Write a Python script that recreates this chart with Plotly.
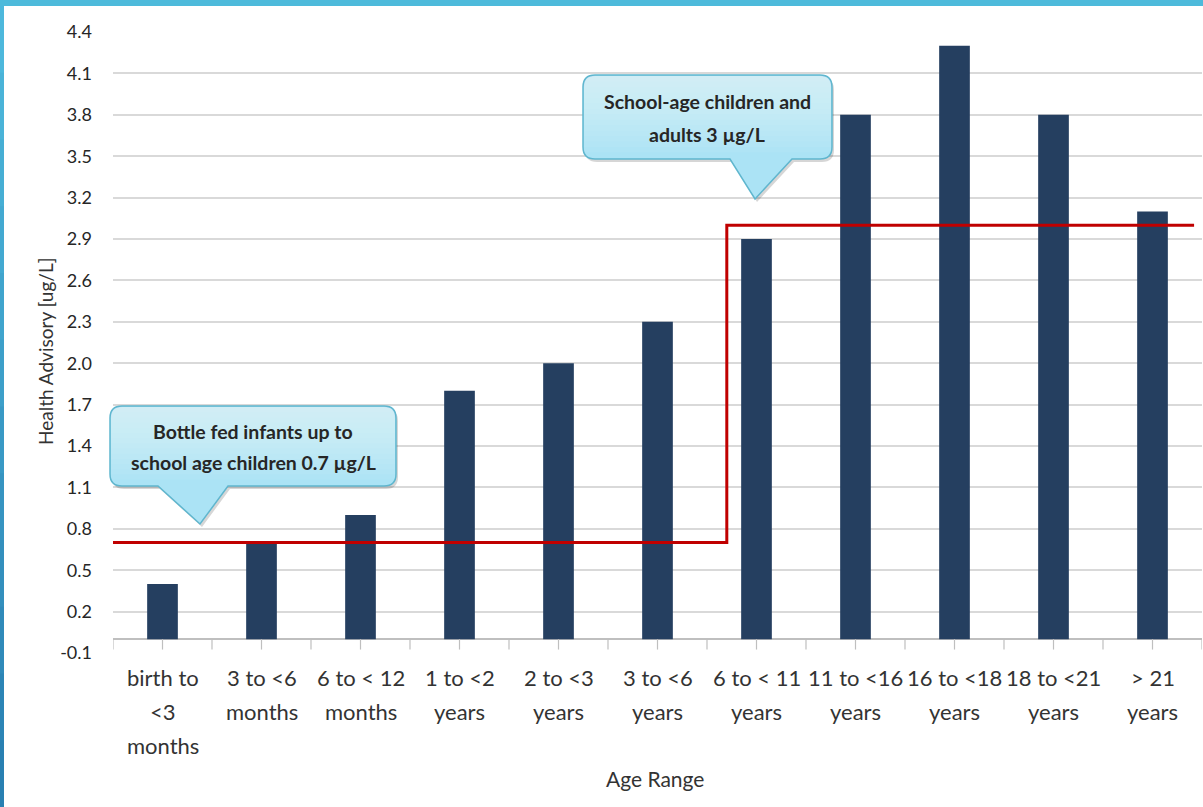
import plotly.graph_objects as go

# ---- data -------------------------------------------------------------
age_ranges = [
    "birth to\n<3\nmonths", "3 to <6\nmonths", "6 to < 12\nmonths",
    "1 to <2\nyears", "2 to <3\nyears", "3 to <6\nyears",
    "6 to < 11\nyears", "11 to <16\nyears", "16 to <18\nyears",
    "18 to <21\nyears", "> 21\nyears",
]
advisory = [0.4, 0.7, 0.9, 1.8, 2.0, 2.3, 2.9, 3.8, 4.3, 3.8, 3.1]

# stepped advisory limit (x in category units)
limit_x = [-0.5, 5.7, 5.7, 10.42]
limit_y = [0.7, 0.7, 3.0, 3.0]

y_ticks = [round(-0.1 + 0.3 * k, 1) for k in range(16)]

callout_texts = [
    ["Bottle fed infants up to", "school age children 0.7 \u00b5g/L"],
    ["School-age children and", "adults 3 \u00b5g/L"],
]

# ---- layout geometry (pixels) ----------------------------------------
W, H = 1203, 807
L, R, T, B = 113, 1202, 32, 653
PW, PH = R - L, B - T


def px(x):
    return (x - L) / PW


def py(y):
    return (B - y) / PH


FONT = "Lato, 'Liberation Sans', sans-serif"

fig = go.Figure()

fig.add_trace(go.Bar(
    x=list(range(len(advisory))), y=advisory, width=0.31,
    marker=dict(color="#253F60", line=dict(width=0)),
    hoverinfo="y",
))

fig.add_trace(go.Scatter(
    x=limit_x, y=limit_y, mode="lines",
    line=dict(color="#C00000", width=3), hoverinfo="skip",
))

shapes = []

# category axis ticks at centres and boundaries
for k in range(2 * len(advisory) + 1):
    xv = -0.5 + 0.5 * k
    shapes.append(dict(type="line", xref="x", yref="y", x0=xv, x1=xv,
                       y0=0, y1=-0.075, line=dict(color="#BFBFBF", width=1.2),
                       layer="above"))

# window frame strips
shapes.append(dict(type="rect", xref="paper", yref="paper",
                   x0=px(0), x1=px(W), y0=py(0), y1=py(6),
                   fillcolor="#4DBADB", line=dict(width=0), layer="above"))
n_seg = 12
c0, c1 = (77, 184, 220), (41, 128, 178)
for s in range(n_seg):
    f = s / (n_seg - 1)
    col = "rgb(%d,%d,%d)" % tuple(round(a + (b - a) * f) for a, b in zip(c0, c1))
    y0p = 6 + (H - 6) * s / n_seg
    y1p = 6 + (H - 6) * (s + 1) / n_seg
    shapes.append(dict(type="rect", xref="paper", yref="paper",
                       x0=px(0), x1=px(4), y0=py(y0p), y1=py(y1p + 1),
                       fillcolor=col, line=dict(width=0), layer="above"))


def callout_path(x0, y0, x1, y1, bx0, bx1, tx, ty, r=12, dx=0, dy=0):
    x0 += dx; x1 += dx; bx0 += dx; bx1 += dx; tx += dx
    y0 += dy; y1 += dy; ty += dy
    return (f"M {px(x0 + r)},{py(y0)} L {px(x1 - r)},{py(y0)} "
            f"Q {px(x1)},{py(y0)} {px(x1)},{py(y0 + r)} "
            f"L {px(x1)},{py(y1 - r)} Q {px(x1)},{py(y1)} {px(x1 - r)},{py(y1)} "
            f"L {px(bx1)},{py(y1)} L {px(tx)},{py(ty)} L {px(bx0)},{py(y1)} "
            f"L {px(x0 + r)},{py(y1)} Q {px(x0)},{py(y1)} {px(x0)},{py(y1 - r)} "
            f"L {px(x0)},{py(y0 + r)} Q {px(x0)},{py(y0)} {px(x0 + r)},{py(y0)} Z")


def rrect_path(x0, y0, x1, y1, r):
    return (f"M {px(x0 + r)},{py(y0)} L {px(x1 - r)},{py(y0)} "
            f"Q {px(x1)},{py(y0)} {px(x1)},{py(y0 + r)} "
            f"L {px(x1)},{py(y1)} L {px(x0)},{py(y1)} "
            f"L {px(x0)},{py(y0 + r)} Q {px(x0)},{py(y0)} {px(x0 + r)},{py(y0)} Z")


callouts = [
    dict(box=(110, 406, 396, 486), base=(158, 228), tip=(200, 524)),
    dict(box=(583, 75, 832, 159), base=(730, 792), tip=(755, 199)),
]
for c in callouts:
    x0, y0, x1, y1 = c["box"]
    bx0, bx1 = c["base"]
    tx, ty = c["tip"]
    # soft shadow
    shapes.append(dict(type="path", xref="paper", yref="paper",
                       path=callout_path(x0, y0, x1, y1, bx0, bx1, tx, ty, dx=2, dy=3),
                       fillcolor="rgba(0,0,0,0.16)", line=dict(width=0), layer="above"))
    shapes.append(dict(type="path", xref="paper", yref="paper",
                       path=callout_path(x0, y0, x1, y1, bx0, bx1, tx, ty),
                       fillcolor="#ABE3F5", line=dict(width=0), layer="above"))
    # vertical light-to-dark gradient built from stacked translucent layers
    n_band = 14
    for k in range(n_band):
        yb = y0 + 1 + (y1 - y0 - 2) * (k + 1) / (n_band + 1)
        shapes.append(dict(type="path", xref="paper", yref="paper",
                           path=rrect_path(x0 + 1, y0 + 1, x1 - 1, yb, 11),
                           fillcolor="rgba(255,255,255,0.05)", line=dict(width=0),
                           layer="above"))
    shapes.append(dict(type="path", xref="paper", yref="paper",
                       path=callout_path(x0, y0, x1, y1, bx0, bx1, tx, ty),
                       fillcolor="rgba(0,0,0,0)", line=dict(color="#5FB6CE", width=1.5),
                       layer="above"))

annotations = []

# callout text
callout_text_pos = [(253, [431, 462]), (707, [102, 135])]
for lines, (cx, ys) in zip(callout_texts, callout_text_pos):
    for line, yy in zip(lines, ys):
        annotations.append(dict(
            text="<b>%s</b>" % line, xref="paper", yref="paper",
            x=px(cx), y=py(yy), xanchor="center", yanchor="middle",
            showarrow=False, font=dict(family=FONT, size=19.5, color="#262626")))

# category labels, one annotation per line
line_y = [677, 711, 745]
for i, lab in enumerate(age_ranges):
    for j, part in enumerate(lab.split("\n")):
        annotations.append(dict(
            text=part, xref="x", yref="paper", x=i, y=py(line_y[j]),
            xanchor="center", yanchor="middle", showarrow=False,
            font=dict(family=FONT, size=22, color="#333333")))

# axis titles
annotations.append(dict(
    text="Age Range", xref="paper", yref="paper", x=px(655), y=py(778),
    xanchor="center", yanchor="middle", showarrow=False,
    font=dict(family=FONT, size=21, color="#333333")))
annotations.append(dict(
    text="Health Advisory [ug/L]", xref="paper", yref="paper", x=px(45), y=py(352),
    xanchor="center", yanchor="middle", textangle=-90, showarrow=False,
    font=dict(family=FONT, size=19, color="#333333")))

fig.update_layout(
    width=W, height=H,
    margin=dict(l=L, r=W - R, t=T, b=H - B),
    paper_bgcolor="white", plot_bgcolor="white",
    showlegend=False,
    shapes=shapes, annotations=annotations,
    xaxis=dict(range=[-0.5, 10.5], showticklabels=False, showgrid=False,
               zeroline=False, ticks="", fixedrange=True),
    yaxis=dict(range=[-0.1, 4.4], tickvals=y_ticks,
               ticktext=["%.1f" % v for v in y_ticks],
               showgrid=True, gridcolor="#D9D9D9", gridwidth=1.5,
               zeroline=True, zerolinecolor="#BFBFBF", zerolinewidth=1.5,
               ticks="", ticklabelstandoff=20,
               tickfont=dict(family=FONT, size=18, color="#262626")),
)

fig.write_html("out.html")
